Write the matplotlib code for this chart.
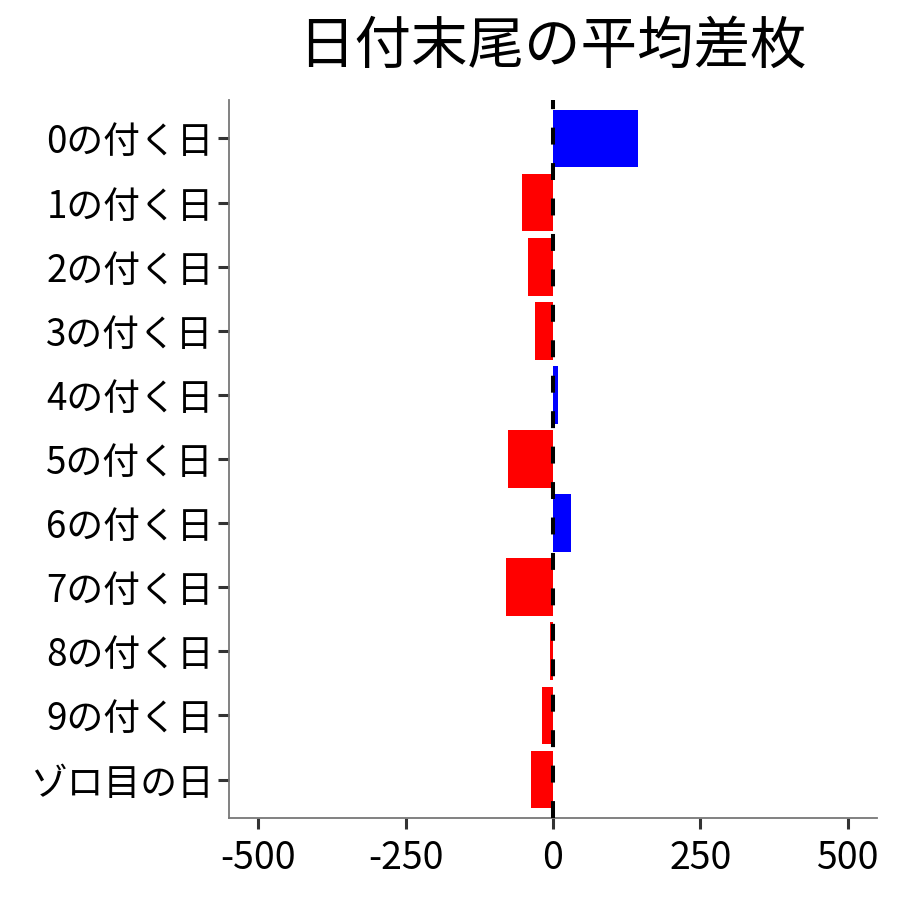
import matplotlib
matplotlib.use("Agg")
import matplotlib.pyplot as plt

plt.rcParams['font.family'] = ['Noto Sans CJK JP', 'DejaVu Sans']

title = "日付末尾の平均差枚"
categories = ["0の付く日", "1の付く日", "2の付く日", "3の付く日", "4の付く日",
              "5の付く日", "6の付く日", "7の付く日", "8の付く日", "9の付く日", "ゾロ目の日"]
values = [145, -52, -43, -31, 9, -77, 31, -79, -5, -19.5, -38]
xticks = [-500, -250, 0, 250, 500]

fig = plt.figure(figsize=(9, 9), dpi=100)
ax = fig.add_axes([229/900, 1-818/900, 648/900, 718/900])

ypos = list(range(len(categories)))
colors = ["blue" if v > 0 else "red" for v in values]
ax.barh(ypos, values, height=0.9, color=colors, zorder=2)
ax.axvline(0, color="black", linewidth=2.9, linestyle=(0, (4.2, 4.6)), zorder=3)

ax.set_xlim(-550, 550)
ax.set_ylim(len(categories) - 1 + 0.6, -0.6)
ax.set_yticks(ypos)
ax.set_yticklabels(categories, fontsize=26.5, color="black")
ax.set_xticks(xticks)
ax.set_xticklabels([str(t) for t in xticks], fontsize=27, color="black")
ax.tick_params(axis="both", length=8, width=2.2, color="#333333")
ax.tick_params(axis="y", pad=3)
ax.tick_params(axis="x", pad=7)

for s in ["top", "right"]:
    ax.spines[s].set_visible(False)
for s in ["left", "bottom"]:
    ax.spines[s].set_color("#777777")
    ax.spines[s].set_linewidth(1.3)

fig.text(552/900, 1-46/900, title, fontsize=40.7, ha="center", va="center", color="black")

fig.savefig("out.png", dpi=100, facecolor="white")
